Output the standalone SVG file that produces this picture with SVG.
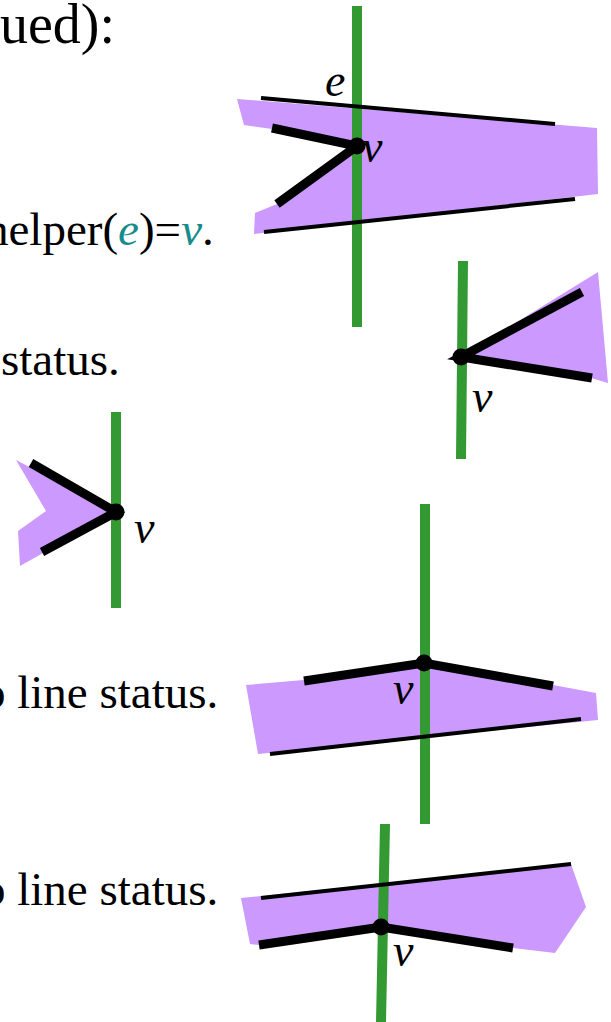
<svg xmlns="http://www.w3.org/2000/svg" width="611" height="1022" viewBox="0 0 611 1022">
<style>
.txt{font-family:"Liberation Serif","Times New Roman",serif;font-size:47px;fill:#000}
.lbl{font-family:"Liberation Serif","Times New Roman",serif;font-size:46px;font-style:italic;fill:#000}
.teal{fill:#168c8c;font-style:italic}
.region{fill:#cc99ff;stroke:none}
.sweep{stroke:#339933;stroke-width:10;fill:none}
.thin{stroke:#000;stroke-width:4;fill:none}
.thick{stroke:#000;stroke-width:9;fill:none}
.vert{fill:#000}
</style>
<rect width="611" height="1022" fill="#fff"/>
<g id="texts">
<text class="txt" x="0" y="43" style="font-size:56px">ued):</text>
<text class="txt" x="-15" y="245">helper(<tspan class="teal">e</tspan>)=<tspan class="teal">v</tspan>.</text>
<text class="txt" x="1" y="375">status.</text>
<text class="txt" x="-18" y="708">o line status.</text>
<text class="txt" x="-18" y="905">o line status.</text>
</g>
<g id="scene1">
<polygon class="region" points="237,99 244,125 272,129 357,146 277,204 255,213 254,234 598,194 597,128"/>
<line class="sweep" x1="357" y1="6" x2="357" y2="327"/>
<line class="thin" x1="261" y1="98" x2="555" y2="124"/>
<line class="thin" x1="264" y1="232" x2="575" y2="199"/>
<polyline class="thick" points="272,128 357,146 277,204"/>
<circle class="vert" cx="357" cy="146" r="8.5"/>
<text class="lbl" x="325" y="96">e</text>
<text class="lbl" x="362" y="162">v</text>
</g>
<g id="scene2">
<polygon class="region" points="462,356 598,272 608,383 591,378"/>
<line class="sweep" x1="463" y1="261" x2="461" y2="459"/>
<polyline class="thick" points="582,292 461,357 592,378"/>
<circle class="vert" cx="461" cy="357" r="8.5"/>
<text class="lbl" x="472" y="412">v</text>
</g>
<g id="scene3">
<polygon class="region" points="16,460 116,512 20,566 18,531 46,511"/>
<line class="sweep" x1="116" y1="412" x2="116" y2="608"/>
<polyline class="thick" points="31,463 116,512 42,552"/>
<circle class="vert" cx="116" cy="512" r="8.5"/>
<text class="lbl" x="134" y="543">v</text>
</g>
<g id="scene4">
<polygon class="region" points="246,685 304,680 424,663 553,685 596,693 598,720 258,754"/>
<line class="sweep" x1="425" y1="504" x2="425" y2="824"/>
<line class="thin" x1="270" y1="754" x2="581" y2="719"/>
<polyline class="thick" points="304,681 424,663 553,686"/>
<circle class="vert" cx="424" cy="663" r="8.5"/>
<text class="lbl" x="393" y="704">v</text>
</g>
<g id="scene5">
<polygon class="region" points="241,898 571,864 586,907 555,953 513,948 381,927 259,945 250,944"/>
<line class="sweep" x1="385" y1="824" x2="381" y2="1022"/>
<line class="thin" x1="261" y1="898" x2="571" y2="864"/>
<polyline class="thick" points="259,945 381,927 513,948"/>
<circle class="vert" cx="381" cy="927" r="8.5"/>
<text class="lbl" x="393" y="966">v</text>
</g>
</svg>
